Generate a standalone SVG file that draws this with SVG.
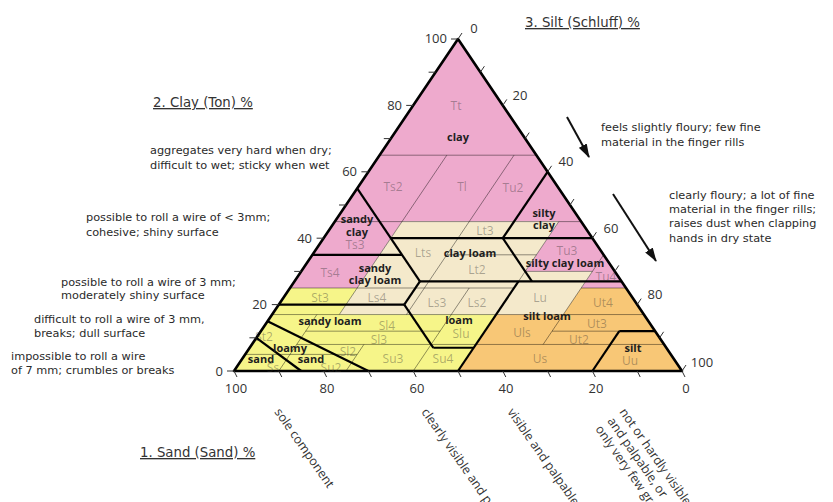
<svg xmlns="http://www.w3.org/2000/svg" width="833" height="502" viewBox="0 0 833 502">
<style>
.t{font-family:"DejaVu Sans","Open Sans",sans-serif;font-size:11.3px;fill:#2a2a2a}
.ttl{font-family:"DejaVu Sans","Open Sans",sans-serif;font-size:13.3px;fill:#333;text-decoration:underline}
.ax{font-family:"Open Sans","DejaVu Sans",sans-serif;font-size:13px;fill:#333}
.axm{text-anchor:middle}
.axe{text-anchor:end}
.k{font-family:"Open Sans","DejaVu Sans",sans-serif;font-size:12px;fill:#303030;fill-opacity:.38;text-anchor:middle}
.b{font-family:"Open Sans","DejaVu Sans",sans-serif;font-size:11px;font-weight:bold;fill:#1e1e1e;text-anchor:middle}
.r{font-family:"Open Sans","DejaVu Sans",sans-serif;font-size:12.5px;fill:#333}
.thin{stroke:#000;stroke-opacity:.42;stroke-width:1;fill:none}
.thick{stroke:#000;stroke-width:2.2;fill:none;stroke-linejoin:round}
.tick{stroke:#333;stroke-width:1}
.arr{stroke:#111;stroke-width:2;fill:none}
</style>
<defs>
<marker id="ah" viewBox="0 0 14 9" refX="13" refY="4.5" markerWidth="7" markerHeight="4.5" orient="auto" markerUnits="strokeWidth">
<path d="M0,0 L14,4.5 L0,9 z" fill="#111"/>
</marker>
</defs>
<rect width="833" height="502" fill="#fff"/>

<g id="fills" stroke="none">
<polygon id="pink" fill="#eeaacd" points="458,39 290,288 357.2,288 402,221.6 558.8,221.6 525.2,271.4 592.4,271.4 581.2,288 626,288"/>
<polygon id="beige" fill="#f4e9cb" points="402,221.6 558.8,221.6 525.2,271.4 592.4,271.4 563.3,314.56 339.3,314.56"/>
<polygon id="yellow" fill="#f6f589" points="234,371 290,288 357.2,288 339.3,314.56 496.1,314.56 458,371"/>
<polygon id="orange" fill="#f8c776" points="458,371 496.1,314.56 563.3,314.56 581.2,288 626,288 682,371"/>
</g>

<g id="thin-lines" class="thin">
<line x1="379.6" y1="155.2" x2="536.4" y2="155.2"/>
<line x1="334.8" y1="221.6" x2="581.2" y2="221.6"/>
<line x1="312.4" y1="254.8" x2="379.6" y2="254.8"/>
<line x1="446.8" y1="254.8" x2="536.4" y2="254.8"/>
<line x1="525.2" y1="271.4" x2="592.4" y2="271.4"/>
<line x1="290" y1="288" x2="514" y2="288"/>
<line x1="581.2" y1="288" x2="626" y2="288"/>
<line x1="272.08" y1="314.56" x2="643.92" y2="314.56"/>
<line x1="305.68" y1="331.16" x2="440.08" y2="331.16"/>
<line x1="552.08" y1="331.16" x2="655.12" y2="331.16"/>
<line x1="296.72" y1="344.44" x2="664.08" y2="344.44"/>
<line x1="245.2" y1="354.4" x2="357.2" y2="354.4"/>
<line x1="278.8" y1="371" x2="316.88" y2="314.56"/>
<line x1="339.28" y1="314.56" x2="446.8" y2="155.2"/>
<line x1="346" y1="371" x2="363.92" y2="344.44"/>
<line x1="406.48" y1="314.56" x2="514" y2="155.2"/>
<line x1="413.2" y1="371" x2="469.2" y2="288"/>
<line x1="458" y1="371" x2="558.8" y2="221.6"/>
<line x1="543.12" y1="344.44" x2="603.6" y2="254.8"/>
<line x1="592.4" y1="371" x2="610.32" y2="344.44"/>
</g>

<g id="thick-lines" class="thick">
<line x1="390.8" y1="238.2" x2="592.4" y2="238.2"/>
<line x1="357.2" y1="188.4" x2="419.92" y2="281.36"/>
<line x1="312.4" y1="254.8" x2="402" y2="254.8"/>
<line x1="419.92" y1="281.36" x2="404.24" y2="304.6"/>
<line x1="419.92" y1="281.36" x2="621.52" y2="281.36"/>
<line x1="502.8" y1="238.2" x2="531.92" y2="281.36"/>
<line x1="502.8" y1="238.2" x2="547.6" y2="171.8"/>
<line x1="278.8" y1="304.6" x2="404.24" y2="304.6"/>
<line x1="404.24" y1="304.6" x2="433.36" y2="347.76"/>
<line x1="433.36" y1="347.76" x2="473.68" y2="347.76"/>
<line x1="458" y1="371" x2="518.48" y2="281.36"/>
<line x1="592.4" y1="371" x2="619.28" y2="331.16"/>
<line x1="619.28" y1="331.16" x2="655.12" y2="331.16"/>
<line x1="267.6" y1="321.2" x2="368.4" y2="371"/>
<line x1="256.4" y1="337.8" x2="301.2" y2="371"/>
<polygon points="458,39 234,371 682,371" stroke-width="2.6"/>
</g>

<g id="ticks" class="tick">
<line x1="227" y1="371" x2="234" y2="371"/>
<line x1="249.4" y1="337.8" x2="256.4" y2="337.8"/>
<line x1="271.8" y1="304.6" x2="278.8" y2="304.6"/>
<line x1="294.2" y1="271.4" x2="301.2" y2="271.4"/>
<line x1="316.6" y1="238.2" x2="323.6" y2="238.2"/>
<line x1="339" y1="205" x2="346" y2="205"/>
<line x1="361.4" y1="171.8" x2="368.4" y2="171.8"/>
<line x1="383.8" y1="138.6" x2="390.8" y2="138.6"/>
<line x1="406.2" y1="105.4" x2="413.2" y2="105.4"/>
<line x1="428.6" y1="72.2" x2="435.6" y2="72.2"/>
<line x1="451" y1="39" x2="458" y2="39"/>
<line x1="458" y1="39" x2="462" y2="33"/>
<line x1="480.4" y1="72.2" x2="484.4" y2="66.2"/>
<line x1="502.8" y1="105.4" x2="506.8" y2="99.4"/>
<line x1="525.2" y1="138.6" x2="529.2" y2="132.6"/>
<line x1="547.6" y1="171.8" x2="551.6" y2="165.8"/>
<line x1="570" y1="205" x2="574" y2="199"/>
<line x1="592.4" y1="238.2" x2="596.4" y2="232.2"/>
<line x1="614.8" y1="271.4" x2="618.8" y2="265.4"/>
<line x1="637.2" y1="304.6" x2="641.2" y2="298.6"/>
<line x1="659.6" y1="337.8" x2="663.6" y2="331.8"/>
<line x1="682" y1="371" x2="686" y2="365"/>
<line x1="234" y1="371" x2="237" y2="377"/>
<line x1="278.8" y1="371" x2="281.8" y2="377"/>
<line x1="323.6" y1="371" x2="326.6" y2="377"/>
<line x1="368.4" y1="371" x2="371.4" y2="377"/>
<line x1="413.2" y1="371" x2="416.2" y2="377"/>
<line x1="458" y1="371" x2="461" y2="377"/>
<line x1="502.8" y1="371" x2="505.8" y2="377"/>
<line x1="547.6" y1="371" x2="550.6" y2="377"/>
<line x1="592.4" y1="371" x2="595.4" y2="377"/>
<line x1="637.2" y1="371" x2="640.2" y2="377"/>
<line x1="682" y1="371" x2="685" y2="377"/>
</g>

<g id="axis-labels" class="ax">
<text class="axe" x="223" y="375.5">0</text>
<text class="axe" x="267" y="309">20</text>
<text class="axe" x="312" y="242.5">40</text>
<text class="axe" x="357" y="176">60</text>
<text class="axe" x="402" y="109.5">80</text>
<text class="axe" x="447" y="43">100</text>
<text class="axm" x="474" y="33">0</text>
<text class="axm" x="520" y="99.5">20</text>
<text class="axm" x="566" y="166">40</text>
<text class="axm" x="611" y="232.5">60</text>
<text class="axm" x="655" y="299">80</text>
<text class="axm" x="702" y="367">100</text>
<text class="axm" x="236" y="393">100</text>
<text class="axm" x="327" y="393">80</text>
<text class="axm" x="417" y="393">60</text>
<text class="axm" x="506" y="393">40</text>
<text class="axm" x="596" y="393">20</text>
<text class="axm" x="686" y="393">0</text>
</g>

<g id="class-codes" class="k">
<text x="456" y="110">Tt</text>
<text x="393" y="191">Ts2</text>
<text x="462" y="191">Tl</text>
<text x="513" y="192">Tu2</text>
<text x="355" y="249">Ts3</text>
<text x="330" y="277">Ts4</text>
<text x="423" y="257">Lts</text>
<text x="485" y="235">Lt3</text>
<text x="477" y="274">Lt2</text>
<text x="567" y="255">Tu3</text>
<text x="606" y="281">Tu4</text>
<text x="320" y="302">St3</text>
<text x="377" y="302">Ls4</text>
<text x="437" y="307">Ls3</text>
<text x="477" y="307">Ls2</text>
<text x="540" y="302">Lu</text>
<text x="603" y="307">Ut4</text>
<text x="387" y="330">Sl4</text>
<text x="461" y="338">Slu</text>
<text x="522" y="337">Uls</text>
<text x="597" y="328">Ut3</text>
<text x="379" y="344">Sl3</text>
<text x="579" y="344">Ut2</text>
<text x="264" y="341">St2</text>
<text x="348" y="356">Sl2</text>
<text x="273" y="372">Ss</text>
<text x="331" y="372">Su2</text>
<text x="393" y="363">Su3</text>
<text x="443" y="363">Su4</text>
<text x="540" y="363">Us</text>
<text x="630" y="365">Uu</text>
</g>

<g id="class-names" class="b">
<text x="458" y="141">clay</text>
<text x="357" y="222.5">sandy</text>
<text x="357" y="235.5">clay</text>
<text x="375" y="271.5">sandy</text>
<text x="375" y="283.5">clay loam</text>
<text x="470" y="256.5">clay loam</text>
<text x="544" y="216.5">silty</text>
<text x="544" y="228.5">clay</text>
<text x="565" y="266.5">silty clay loam</text>
<text x="330" y="324.5">sandy loam</text>
<text x="459" y="323.5">loam</text>
<text x="547" y="319.5">silt loam</text>
<text x="290" y="351.5">loamy</text>
<text x="261" y="362.5">sand</text>
<text x="311" y="362.5">sand</text>
<text x="633" y="351.5">silt</text>
</g>

<g id="titles">
<text class="ttl" x="153" y="107">2. Clay (Ton) %</text>
<text class="ttl" x="525" y="27">3. Silt (Schluff) %</text>
<text class="ttl" x="140" y="457">1. Sand (Sand) %</text>
</g>

<g id="clay-notes" class="t">
<text x="150" y="154">aggregates very hard when dry;</text>
<text x="150" y="169">difficult to wet; sticky when wet</text>
<text x="86" y="221">possible to roll a wire of &lt; 3mm;</text>
<text x="86" y="236">cohesive; shiny surface</text>
<text x="61" y="286">possible to roll a wire of 3 mm;</text>
<text x="61" y="299">moderately shiny surface</text>
<text x="34" y="323">difficult to roll a wire of 3 mm,</text>
<text x="34" y="337">breaks; dull surface</text>
<text x="11" y="360">impossible to roll a wire</text>
<text x="11" y="374">of 7 mm; crumbles or breaks</text>
</g>

<g id="silt-notes" class="t">
<text x="601" y="131">feels slightly floury; few fine</text>
<text x="601" y="146">material in the finger rills</text>
<text x="669" y="199">clearly floury; a lot of fine</text>
<text x="669" y="212.5">material in the finger rills;</text>
<text x="669" y="227">raises dust when clapping</text>
<text x="669" y="241.5">hands in dry state</text>
</g>

<g id="connectors" class="arr">
<line x1="567" y1="117" x2="589" y2="157" marker-end="url(#ah)"/>
<line x1="613" y1="194" x2="656" y2="261" marker-end="url(#ah)"/>
</g>

<g id="sand-notes" class="r">
<text transform="translate(274,412) rotate(55)">sole component</text>
<text transform="translate(421,412) rotate(55)">clearly visible and palpable</text>
<text transform="translate(507,412) rotate(55)">visible and palpable</text>
<text transform="translate(619,412) rotate(55)">not or hardly visible</text>
<text transform="translate(607,421) rotate(55)">and palpable, or</text>
<text transform="translate(595,429) rotate(55)">only very few grains</text>
</g>
</svg>
